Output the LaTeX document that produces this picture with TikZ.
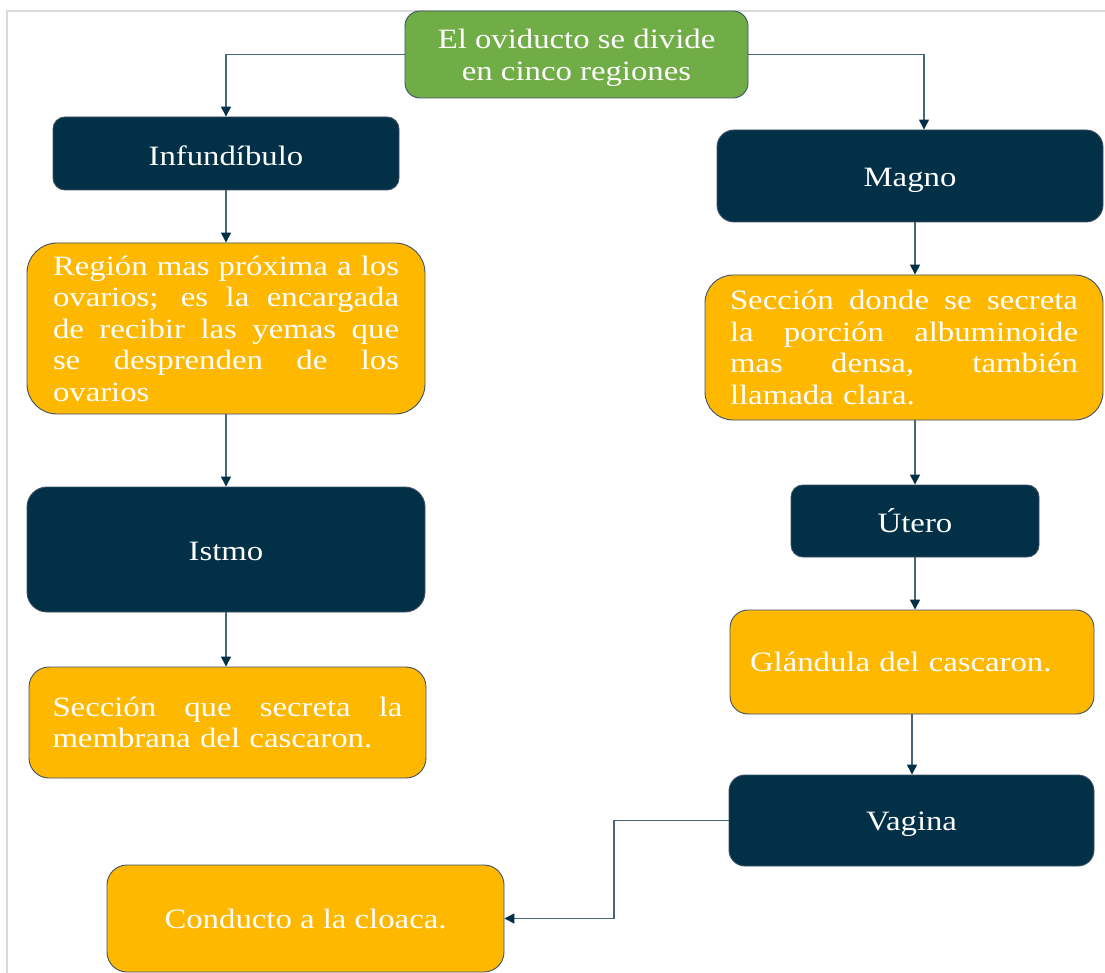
\documentclass[tikz,border=0pt]{standalone}
\usepackage{fontspec}
\setmainfont{Liberation Serif}[FakeStretch=1.17]
\usetikzlibrary{arrows.meta}
\definecolor{navy}{RGB}{2,48,71}
\definecolor{amber}{RGB}{255,184,0}
\definecolor{leaf}{RGB}{112,173,71}
\definecolor{edge}{RGB}{62,80,100}
\definecolor{wire}{RGB}{70,100,122}
\definecolor{frame}{RGB}{217,217,217}
\newcommand\jline[2]{\makebox[#1][s]{\spaceskip=0pt\xspaceskip=0pt\relax #2}}
\newcommand\lowered[2]{\raisebox{-#1}[\height][\depth]{#2}}
\begin{document}
\begin{tikzpicture}[x=1pt,y=-1pt,
  box/.style={draw=edge, line width=0.9pt, inner sep=0pt, text=white,
    font=\fontsize{28}{31.5}\selectfont},
  navybox/.style={box, fill=navy},
  amberbox/.style={box, fill=amber},
  greenbox/.style={box, fill=leaf},
  conn/.style={draw=wire, line width=1.4pt,
    -{Triangle[length=10pt,width=10pt,color=navy]}}]
\useasboundingbox (0,0) rectangle (1105,973);
\fill[white] (0,0) rectangle (1105,973);
\draw[frame, line width=2pt] (7,973) -- (7,11) -- (1105,11);

% top
\node[greenbox, minimum width=343, minimum height=87, rounded corners=15, align=center] (top) at (576.5,54.5) {\lowered{3.5pt}{El oviducto se divide}\\\lowered{3.5pt}{en cinco regiones}};

% left column
\node[navybox, minimum width=346, minimum height=73, rounded corners=12] (infund) at (226,153.5) {\lowered{2pt}{Infundíbulo}};
\node[amberbox, minimum width=398, minimum height=171, rounded corners=30, text width=346pt, align=left] (region) at (226,328.5)
  {\jline{346pt}{Región mas próxima a los}\\
   \jline{346pt}{ovarios; es la encargada}\\
   \jline{346pt}{de recibir las yemas que}\\
   \jline{346pt}{se desprenden de los}\\
   ovarios};
\node[navybox, minimum width=398, minimum height=125, rounded corners=20] (istmo) at (226,549.5) {\lowered{2pt}{Istmo}};
\node[amberbox, minimum width=397, minimum height=111, rounded corners=20, text width=350pt, align=left] (membrana) at (227.5,722.5)
  {\jline{350pt}{Sección que secreta la}\\
   membrana del cascaron.};

% right column
\node[navybox, minimum width=386, minimum height=92, rounded corners=17] (magno) at (910,176) {\lowered{4pt}{Magno}};
\node[amberbox, minimum width=398, minimum height=145, rounded corners=28, text width=348pt, align=left] (donde) at (904,347.5)
  {\jline{348pt}{Sección donde se secreta}\\
   \jline{348pt}{la porción albuminoide}\\
   \jline{348pt}{mas densa, también}\\
   llamada clara.};
\node[navybox, minimum width=248, minimum height=72, rounded corners=12] (utero) at (915,521) {Útero};
\node[amberbox, minimum width=364, minimum height=104, rounded corners=18, text width=324pt, align=left] (glandula) at (912,662) {Glándula del cascaron.};
\node[navybox, minimum width=365, minimum height=91, rounded corners=16] (vagina) at (911.5,820.5) {\lowered{4pt}{Vagina}};
\node[amberbox, minimum width=397, minimum height=107, rounded corners=20] (conducto) at (305.5,918.5) {Conducto a la cloaca.};

\coordinate (bendR) at (924,0);
\coordinate (bendV) at (614,0);

% connectors
\draw[conn] (top.west) -| (infund.north);
\draw[conn] (top.east) -| (magno.north -| bendR);
\draw[conn] (infund.south) -- (region.north);
\draw[conn] (region.south) -- (istmo.north);
\draw[conn] (istmo.south) -- (membrana.north -| istmo.south);
\draw[conn] (magno.south -| utero.north) -- (donde.north -| utero.north);
\draw[conn] (donde.south -| utero.north) -- (utero.north);
\draw[conn] (utero.south) -- (glandula.north -| utero.south);
\draw[conn] (glandula.south) -- (vagina.north -| glandula.south);
\draw[conn] (vagina.west) -- (vagina.west -| bendV) |- (conducto.east);
\end{tikzpicture}
\end{document}
